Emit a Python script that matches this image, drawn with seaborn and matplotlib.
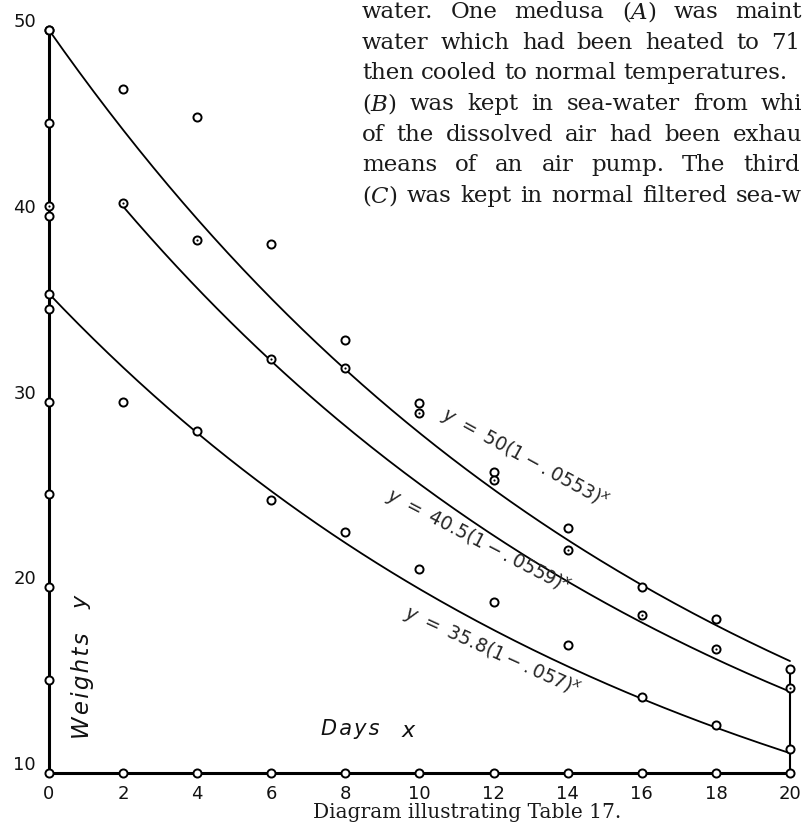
import numpy as np
import pandas as pd
import matplotlib
matplotlib.use("Agg")
import matplotlib.pyplot as plt
import matplotlib.transforms as mtransforms
import seaborn as sns

# ---------------- data ----------------
days = [0, 2, 4, 6, 8, 10, 12, 14, 16, 18, 20]
weights_A = [50.0, 46.8, 45.3, 38.5, 33.3, 29.9, 26.2, 23.2, 20.0, 18.3, 15.6]
weights_B = [40.5, 40.7, 38.7, 32.3, 31.8, 29.4, 25.8, 22.0, 18.5, 16.7, 14.6]
weights_C = [35.8, 30.0, 28.4, 24.7, 23.0, 21.0, 19.2, 16.9, 14.1, 12.6, 11.3]

# fitted curves y = a (1 - r)^(x - x0), as written on the chart
curve_names = ["A", "B", "C"]
curve_a = [50.0, 40.5, 35.8]
curve_r = [0.0553, 0.0559, 0.057]
curve_x0 = [0, 2, 0]
curve_labels = [r"$y\ =\ 50(1-.0553)^{x}$",
                r"$y\ =\ 40.5(1-.0559)^{x}$",
                r"$y\ =\ 35.8(1-.057)^{x}$"]

y_ticks = [10, 20, 30, 40, 50]
y_tick_circles = [15, 20, 25, 30, 35, 40, 45, 50]
x_ticks = [0, 2, 4, 6, 8, 10, 12, 14, 16, 18, 20]

paragraph = [r"water.  One medusa ($\mathit{A}$) was maint",
             "water which had been heated to 71",
             "then cooled to normal temperatures.",
             r"($\mathit{B}$) was kept in sea-water from whi",
             "of the dissolved air had  been exhau",
             "means of an air pump.   The third",
             r"($\mathit{C}$) was kept in normal filtered sea-w"]
caption = "Diagram illustrating Table 17."
x_title = "Days"
y_title = "Weights"

# ---------------- figure ----------------
sns.set_style("white")
plt.rcParams["font.family"] = ["DejaVu Sans"]

W, H = 805, 827
fig = plt.figure(figsize=(W / 100, H / 100), dpi=100)
ax = fig.add_axes([0, 0, 1, 1])
ax.set_xlim(-1.3225, 20.405)
ax.set_ylim(7.093, 51.615)
ax.axis("off")

# curves
rows = []
for n, a, r, x0 in zip(curve_names, curve_a, curve_r, curve_x0):
    xs = np.linspace(x0, 20, 200)
    for xv in xs:
        rows.append({"curve": n, "x": xv, "y": a * (1 - r) ** (xv - x0)})
cdf = pd.DataFrame(rows)
sns.lineplot(data=cdf, x="x", y="y", hue="curve", palette=["black"] * 3,
             sort=False, estimator=None, lw=1.3, legend=False, ax=ax, zorder=2)

# axes frame lines drawn as data
ax.plot([0, 0], [10, 50], color="black", lw=2.2, zorder=3, solid_capstyle="butt")
ax.plot([0, 20], [10, 10], color="black", lw=2.2, zorder=3, solid_capstyle="butt")
ax.plot([20, 20], [10, weights_A[-1]], color="black", lw=1.5, zorder=3)

# tick circles
tick_df = pd.DataFrame({"x": [0] * len(y_tick_circles) + x_ticks,
                        "y": y_tick_circles + [10] * len(x_ticks)})
mk = dict(s=34, facecolor="white", edgecolor="black", linewidth=1.4,
          zorder=5, legend=False, ax=ax, clip_on=False)
sns.scatterplot(data=tick_df, x="x", y="y", **mk)

# data points
pts = pd.DataFrame({"x": days * 3,
                    "y": weights_A + weights_B + weights_C,
                    "medusa": ["A"] * 11 + ["B"] * 11 + ["C"] * 11})
sns.scatterplot(data=pts, x="x", y="y", **mk)
bdf = pts[pts["medusa"] == "B"]
sns.scatterplot(data=bdf, x="x", y="y", s=2.5, color="black", linewidth=0,
                zorder=6, legend=False, ax=ax)

# tick labels
lab_y = mtransforms.offset_copy(ax.transData, fig=fig, x=-13, y=8, units="dots")
for v in y_ticks:
    ax.text(0, v, str(v), transform=lab_y, ha="right", va="center",
            fontsize=13, color="#111111")
lab_x = mtransforms.offset_copy(ax.transData, fig=fig, x=0, y=-21, units="dots")
for v in x_ticks:
    ax.text(v, 10, str(v), transform=lab_x, ha="center", va="center",
            fontsize=13, color="#111111")

def fx(px):
    return px / W

def fy(py):
    return 1 - py / H

hair = "\u200a"
# axis titles (slightly letter-spaced like the hand lettering)
fig.text(fx(350), fy(729), hair.join(x_title), ha="center", va="center",
         fontsize=15, style="italic", color="#111111")
fig.text(fx(409), fy(731), r"$x$", ha="center", va="center", fontsize=16,
         color="#111111")
fig.text(fx(82), fy(686), hair.join(y_title), ha="center", va="center",
         fontsize=16.5, style="italic", rotation=90, color="#111111")
fig.text(fx(83), fy(601), r"$y$", ha="center", va="center", fontsize=16,
         rotation=90, color="#111111")

# curve equations
eq_pos = [(525, 459, -28.7), (478, 542, -27.5), (492, 652, -24.5)]
for lab, (px, py, rot) in zip(curve_labels, eq_pos):
    fig.text(fx(px), fy(py), lab, ha="center", va="center", fontsize=13.5,
             rotation=rot, rotation_mode="anchor")

# paragraph text in the top right, justified word by word
renderer = fig.canvas.get_renderer()
left_px = 362
right_px = [802, 800, 787, 802, 802, 800, 802]
ptxt = dict(fontsize=16.5, family="DejaVu Serif", math_fontfamily="dejavuserif",
            color="#1a1a1a", ha="left", va="baseline")
first_base, last_base = 18.0, 202.0
step = (last_base - first_base) / (len(paragraph) - 1)
for i, line in enumerate(paragraph):
    words = line.split()
    base = fy(first_base + step * i)
    arts, widths = [], []
    for w in words:
        t = fig.text(0, base, w, **ptxt)
        widths.append(t.get_window_extent(renderer).width)
        arts.append(t)
    gap = (right_px[i] - left_px - sum(widths)) / max(len(words) - 1, 1)
    x = left_px
    for t, wd in zip(arts, widths):
        t.set_x(fx(x))
        x += wd + gap

# caption
fig.text(fx(467), fy(812), caption, ha="center", va="center",
         fontsize=14.5, family="DejaVu Serif", color="#1a1a1a")

fig.savefig("out.png", dpi=100, facecolor="white")
